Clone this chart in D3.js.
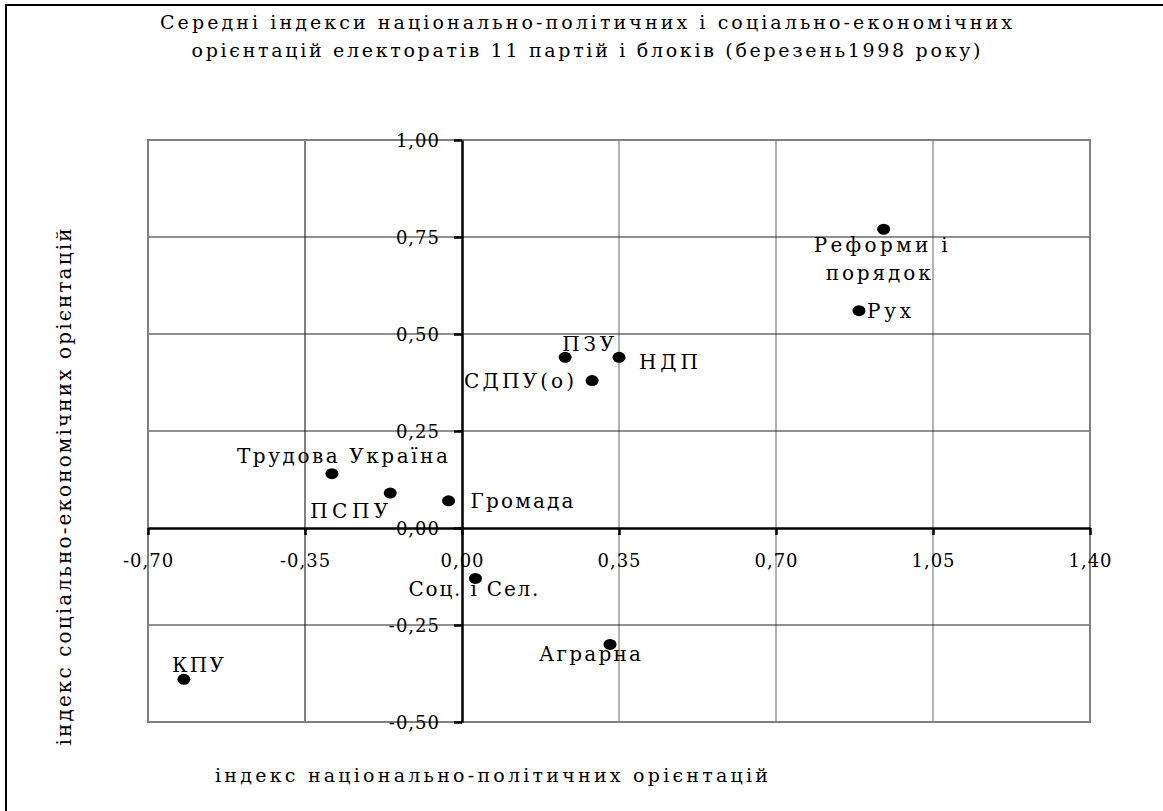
<!DOCTYPE html>
<html>
<head>
<meta charset="utf-8">
<script src="https://cdn.jsdelivr.net/npm/d3@7"></script>
<style>
  body { margin: 0; background: #fff; }
  svg { display: block; }
  text { font-family: "DejaVu Serif", "Liberation Serif", serif; fill: #000; }
</style>
</head>
<body>
<svg id="viz"></svg>
<script>
// data
const parties = ["Реформи і порядок", "Рух", "ПЗУ", "НДП", "СДПУ(о)", "Трудова Україна",
    "ПСПУ", "Громада", "Соц. і Сел.", "Аграрна", "КПУ"];
const natIndex = [0.94, 0.885, 0.23, 0.35, 0.29, -0.29, -0.16, -0.03, 0.03, 0.33, -0.62];
const socIndex = [0.77, 0.56, 0.44, 0.44, 0.38, 0.14, 0.09, 0.07, -0.13, -0.30, -0.39];
const xTicks = [-0.70, -0.35, 0.00, 0.35, 0.70, 1.05, 1.40];
const yTicks = [-0.50, -0.25, 0.00, 0.25, 0.50, 0.75, 1.00];
const titleLines = ["Середні індекси національно-політичних і соціально-економічних",
    "орієнтацій електоратів 11 партій і блоків (березень1998 року)"];
const xTitle = "індекс національно-політичних орієнтацій";
const yTitle = "індекс соціально-економічних орієнтацій";

const width = 1163;
const height = 811;
const plot = { left: 148, right: 1090, top: 140, bottom: 722 };

const svg = d3.select("#viz").attr("width", width).attr("height", height);

// outer chart frame (only top/left edges visible in the picture)
svg.append("rect")
    .attr("x", 6).attr("y", 5)
    .attr("width", 1300).attr("height", 1000)
    .attr("fill", "none").attr("stroke", "#000").attr("stroke-width", 2);

const x = d3.scaleLinear().domain([-0.70, 1.40]).range([plot.left, plot.right]);
const y = d3.scaleLinear().domain([-0.50, 1.00]).range([plot.bottom, plot.top]);

const fmt = d3.formatLocale({ decimal: ",", thousands: " ", grouping: [3], currency: ["", ""], minus: "-" }).format(".2f");

// title
const titleW = [852, 789];
svg.append("g").selectAll("text")
    .data(titleLines)
    .enter().append("text")
    .attr("x", 586)
    .attr("y", function (d, i) { return 22 + i * 28; })
    .attr("dy", "0.35em")
    .attr("text-anchor", "middle")
    .attr("font-size", 19)
    .attr("textLength", function (d, i) { return titleW[i]; })
    .attr("lengthAdjust", "spacing")
    .text(function (d) { return d; });

// plot frame + gridlines
const grid = svg.append("g");
grid.selectAll("line.vg")
    .data(xTicks.filter(function (d) { return d !== 0 && d !== -0.70 && d !== 1.40; }))
    .enter().append("line")
    .attr("class", "vg")
    .attr("x1", function (d) { return x(d); }).attr("x2", function (d) { return x(d); })
    .attr("y1", plot.top).attr("y2", plot.bottom)
    .attr("stroke", function (d) { return d < 0 ? "#000" : "#666"; })
    .attr("stroke-width", 1);
grid.selectAll("line.hg")
    .data(yTicks.filter(function (d) { return d !== 0 && d !== -0.50 && d !== 1.00; }))
    .enter().append("line")
    .attr("class", "hg")
    .attr("x1", plot.left).attr("x2", plot.right)
    .attr("y1", function (d) { return y(d); }).attr("y2", function (d) { return y(d); })
    .attr("stroke", "#222")
    .attr("stroke-width", 1);
grid.append("rect")
    .attr("x", plot.left).attr("y", plot.top)
    .attr("width", plot.right - plot.left).attr("height", plot.bottom - plot.top)
    .attr("fill", "none").attr("stroke", "#808080").attr("stroke-width", 2);

// axes through zero
const xAxis = svg.append("g")
    .attr("transform", "translate(0," + y(0) + ")")
    .call(d3.axisBottom(x).tickValues(xTicks).tickFormat(fmt).tickSize(7).tickSizeOuter(0));
const yAxis = svg.append("g")
    .attr("transform", "translate(" + x(0) + ",0)")
    .call(d3.axisLeft(y).tickValues(yTicks).tickFormat(fmt).tickSize(8).tickSizeOuter(0));

[xAxis, yAxis].forEach(function (ax) {
    ax.select(".domain").attr("stroke", "#000").attr("stroke-width", 2.5);
    ax.selectAll(".tick line").attr("stroke", "#000").attr("stroke-width", 2.5);
    ax.selectAll(".tick text")
        .attr("font-family", "DejaVu Serif")
        .attr("font-size", 18)
        .attr("letter-spacing", 1)
        .attr("fill", "#000");
});
xAxis.selectAll(".tick text").attr("y", 33).attr("dy", "0.35em");
yAxis.selectAll(".tick text").attr("x", -22).attr("dy", "0.35em");

// axis titles
svg.append("text")
    .attr("x", 215).attr("y", 775).attr("dy", "0.35em")
    .attr("font-size", 19)
    .attr("textLength", 553).attr("lengthAdjust", "spacing")
    .text(xTitle);
svg.append("text")
    .attr("transform", "translate(64,487) rotate(-90)")
    .attr("text-anchor", "middle").attr("dy", "0.35em")
    .attr("font-size", 20)
    .attr("textLength", 517).attr("lengthAdjust", "spacing")
    .text(yTitle);

// points
const pts = parties.map(function (p, i) { return { name: p, nx: natIndex[i], sy: socIndex[i] }; });
svg.append("g").selectAll("ellipse")
    .data(pts)
    .enter().append("ellipse")
    .attr("cx", function (d) { return x(d.nx); })
    .attr("cy", function (d) { return y(d.sy); })
    .attr("rx", 6.5).attr("ry", 5.5)
    .attr("fill", "#000");

// label placement: lines, offset from the dot (start x, centre y), width
const labelLayout = {
    "Реформи і порядок": [["Реформи і", -70, 16, 134], ["порядок", -58, 44, 105]],
    "Рух": [["Рух", 8, 0, 44]],
    "ПЗУ": [["ПЗУ", -3, -13, 52]],
    "НДП": [["НДП", 20, 5, 59]],
    "СДПУ(о)": [["СДПУ(о)", -128, 0, 110]],
    "Трудова Україна": [["Трудова Україна", -95, -18, 211]],
    "ПСПУ": [["ПСПУ", -80, 18, 78]],
    "Громада": [["Громада", 22, 0, 103]],
    "Соц. і Сел.": [["Соц. і Сел.", -67, 11, 130]],
    "Аграрна": [["Аграрна", -71, 10, 102]],
    "КПУ": [["КПУ", -12, -14, 52]]
};
const labels = svg.append("g");
pts.forEach(function (d) {
    labelLayout[d.name].forEach(function (l) {
        labels.append("text")
            .attr("x", x(d.nx) + l[1])
            .attr("y", y(d.sy) + l[2])
            .attr("dy", "0.35em")
            .attr("font-size", 20)
            .attr("textLength", l[3])
            .attr("lengthAdjust", "spacing")
            .text(l[0]);
    });
});
</script>
</body>
</html>
